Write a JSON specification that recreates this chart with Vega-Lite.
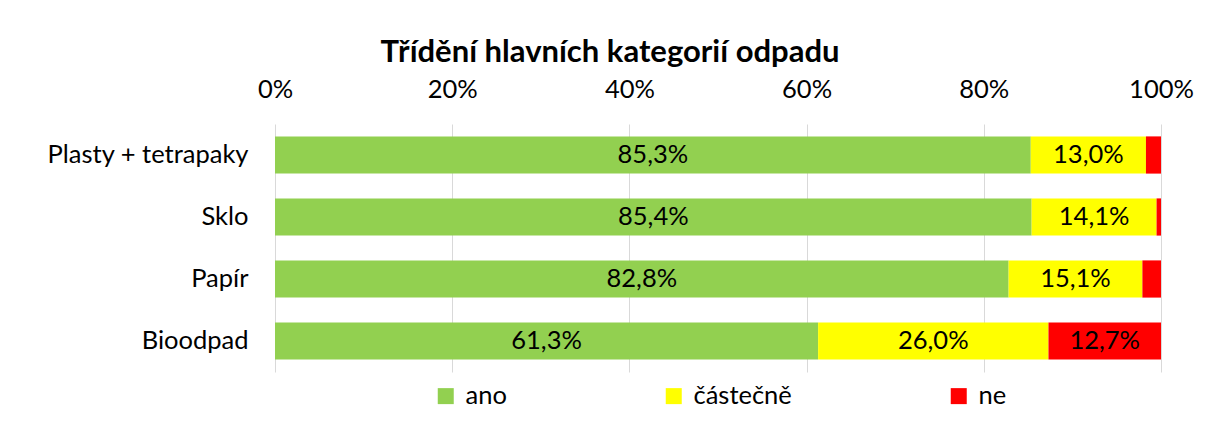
{
  "$schema": "https://vega.github.io/schema/vega-lite/v6.json",
  "autosize": {"type": "none"},
  "padding": {"left": 275, "top": 124, "right": 52, "bottom": 53},
  "width": 886,
  "height": 248,
  "background": "white",
  "title": {
    "text": "Třídění hlavních kategorií odpadu",
    "font": "Lato",
    "fontSize": 31,
    "fontWeight": "bold",
    "color": "#000",
    "anchor": "middle",
    "dx": -108,
    "offset": 8
  },
  "config": {
    "locale": {"number": {"decimal": ",", "thousands": " ", "grouping": [3], "currency": ["", " Kč"]}},
    "view": {"stroke": null},
    "font": "Lato"
  },
  "data": {
    "values": [
      {"kategorie": "Plasty + tetrapaky", "odpoved": "ano", "podil": 0.853},
      {"kategorie": "Plasty + tetrapaky", "odpoved": "částečně", "podil": 0.130},
      {"kategorie": "Plasty + tetrapaky", "odpoved": "ne", "podil": 0.017},
      {"kategorie": "Sklo", "odpoved": "ano", "podil": 0.854},
      {"kategorie": "Sklo", "odpoved": "částečně", "podil": 0.141},
      {"kategorie": "Sklo", "odpoved": "ne", "podil": 0.005},
      {"kategorie": "Papír", "odpoved": "ano", "podil": 0.828},
      {"kategorie": "Papír", "odpoved": "částečně", "podil": 0.151},
      {"kategorie": "Papír", "odpoved": "ne", "podil": 0.021},
      {"kategorie": "Bioodpad", "odpoved": "ano", "podil": 0.613},
      {"kategorie": "Bioodpad", "odpoved": "částečně", "podil": 0.260},
      {"kategorie": "Bioodpad", "odpoved": "ne", "podil": 0.127}
    ]
  },
  "transform": [
    {"calculate": "indexof(['ano','částečně','ne'], datum.odpoved)", "as": "poradi"},
    {"stack": "podil", "groupby": ["kategorie"], "sort": [{"field": "poradi", "order": "ascending"}], "as": ["x0", "x1"]},
    {"calculate": "(datum.x0 + datum.x1) / 2", "as": "xmid"}
  ],
  "encoding": {
    "y": {
      "field": "kategorie",
      "type": "nominal",
      "sort": ["Plasty + tetrapaky", "Sklo", "Papír", "Bioodpad"],
      "scale": {"paddingInner": 0.4, "paddingOuter": 0.2},
      "axis": {
        "title": null,
        "domain": false,
        "ticks": false,
        "labelFont": "Lato",
        "labelFontSize": 25.5,
        "labelColor": "#000",
        "labelPadding": 27,
        "labelLimit": 300
      }
    }
  },
  "layer": [
    {
      "mark": {"type": "bar"},
      "encoding": {
        "x": {
          "field": "x0",
          "type": "quantitative",
          "scale": {"domain": [0, 1], "nice": false},
          "axis": {
            "orient": "top",
            "title": null,
            "format": ".0%",
            "values": [0, 0.2, 0.4, 0.6, 0.8, 1],
            "domain": false,
            "ticks": false,
            "grid": true,
            "gridColor": "#D9D9D9",
            "gridWidth": 1,
            "labelFont": "Lato",
            "labelFontSize": 25.5,
            "labelColor": "#000",
            "labelPadding": 22,
            "labelFlush": false
          }
        },
        "x2": {"field": "x1"},
        "color": {
          "field": "odpoved",
          "type": "nominal",
          "scale": {"domain": ["ano", "částečně", "ne"], "range": ["#92D050", "#FFFF00", "#FF0000"]},
          "legend": {
            "title": null,
            "orient": "none",
            "legendX": 158,
            "legendY": 259,
            "direction": "horizontal",
            "symbolType": "square",
            "symbolSize": 256,
            "symbolStrokeWidth": 0,
            "labelFont": "Lato",
            "labelFontSize": 25.5,
            "labelColor": "#000",
            "labelOffset": 7,
            "labelLimit": 300,
            "columnPadding": 154
          }
        }
      }
    },
    {
      "transform": [{"filter": "datum.podil >= 0.05"}],
      "mark": {"type": "text", "font": "Lato", "fontSize": 25.5, "color": "#000", "baseline": "middle", "align": "center"},
      "encoding": {
        "x": {"field": "xmid", "type": "quantitative"},
        "text": {"field": "podil", "type": "quantitative", "format": ".1%"}
      }
    }
  ]
}
